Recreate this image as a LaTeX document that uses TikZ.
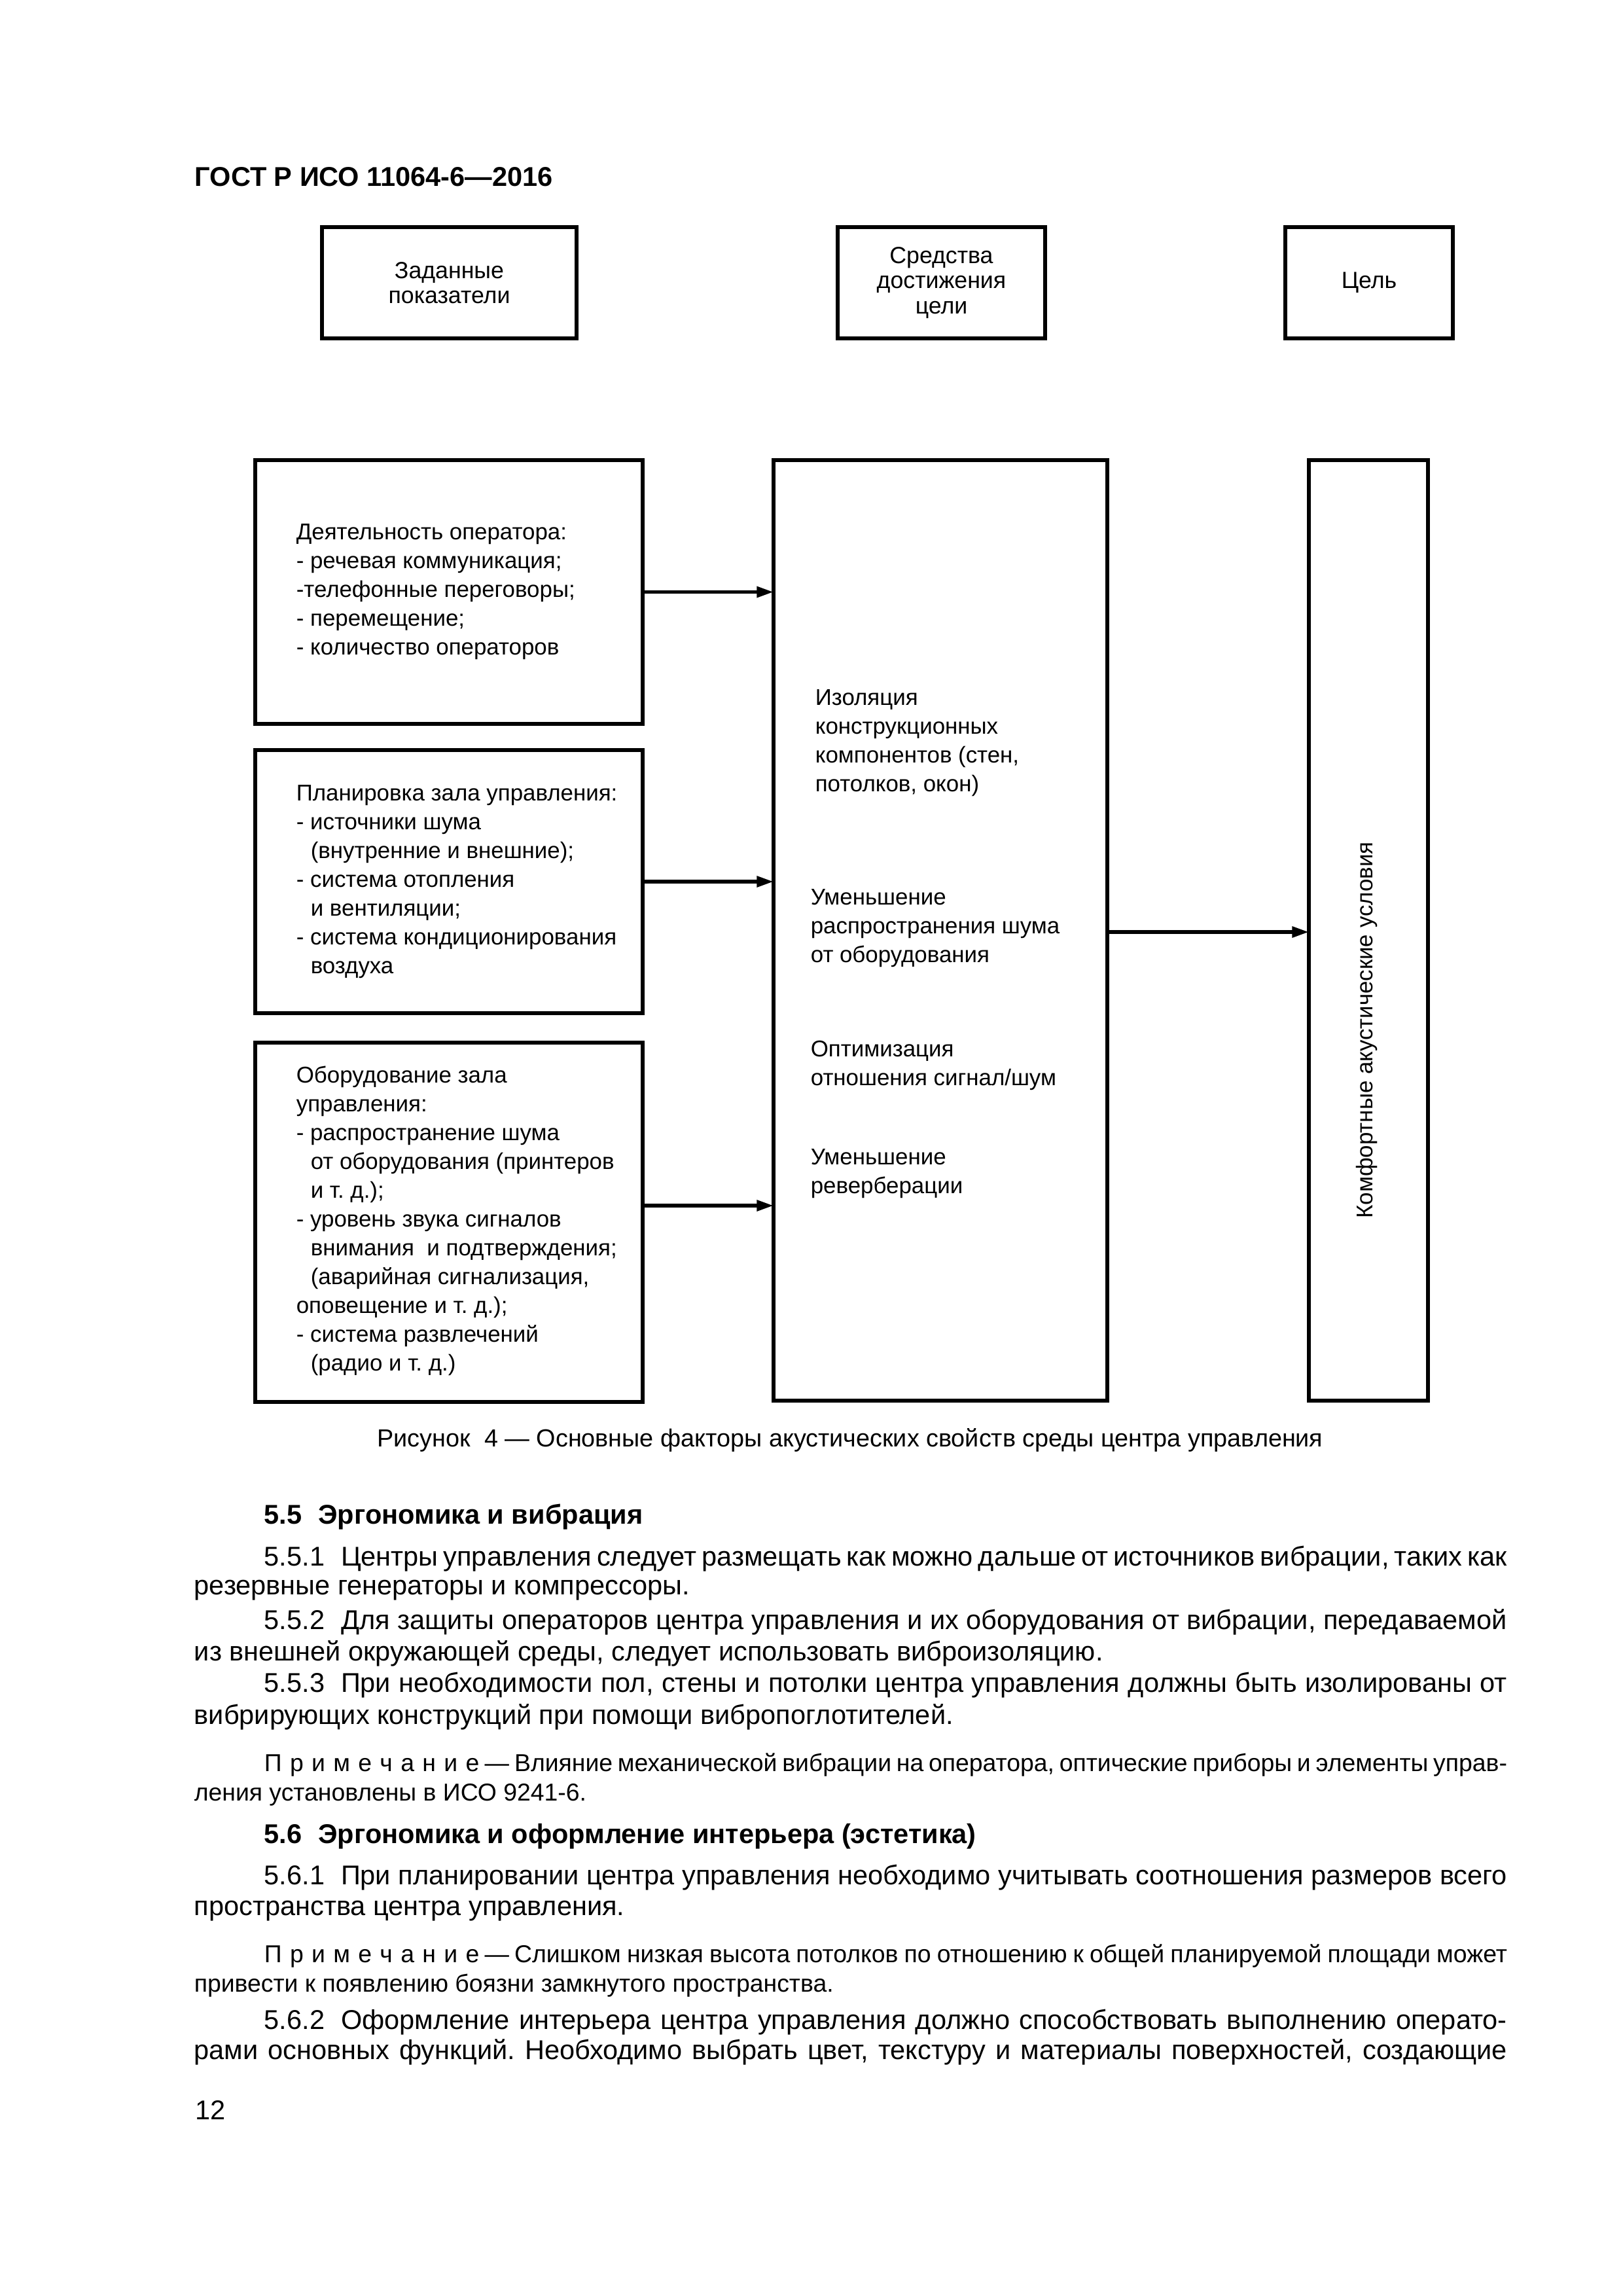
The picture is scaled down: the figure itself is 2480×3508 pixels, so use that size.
\documentclass[tikz,border=0pt]{standalone}
\usepackage{fontspec}
\setmainfont{Liberation Sans}
\usetikzlibrary{arrows.meta,calc}
\newdimen\pxu \pxu=0.0846774mm
\newcommand\jline[2]{\hbox to #1\pxu{\spaceskip=.278em plus 1fil minus .12em\relax\xspaceskip=\spaceskip #2}}
\newcommand\nline[2]{\hbox to #1\pxu{\spaceskip=.278em plus 1fil minus .2em\relax\xspaceskip=\spaceskip #2}}
\newcommand\ls{\hskip.33em\relax}
\newcommand\ndash{\hskip.22em—\hskip.22em\relax}
\newcommand\bodyfont{\fontsize{10}{11}\selectfont}
\newcommand\notefont{\fontsize{9}{10}\selectfont}
\newcommand\capfont{\fontsize{9.1}{10}\selectfont}
\newcommand\diafont{\fontsize{8.4}{10.6}\selectfont}
\newcommand\topfont{\fontsize{8.6}{9.2}\selectfont}
\newcommand\ind{\hspace*{22\pxu}}
\tikzset{
  box/.style={draw, line width=1.44pt, rectangle, inner sep=0pt, outer sep=0pt},
  topbox/.style={box, minimum height=170*\pxu, align=center, font=\topfont},
  txt/.style={align=left, font=\diafont, inner sep=0pt, anchor=west},
  arr/.style={line width=1.33pt, -{Triangle[length=6.2pt,width=3.9pt]}},
  bodyl/.style={anchor=base west, inner sep=0pt, font=\bodyfont},
  notel/.style={anchor=base west, inner sep=0pt, font=\notefont},
  headl/.style={anchor=base west, inner sep=0pt, font=\bodyfont\bfseries},
}
\begin{document}
\frenchspacing
\begin{tikzpicture}[x=0.0846774mm, y=-0.0846774mm]
\path[fill=white, use as bounding box] (0,0) rectangle (2480,3508);

% header
\node[headl] (hdr) at (297,284) {ГОСТ Р ИСО 11064-6—2016};

% top row
\node[topbox, minimum width=389*\pxu] (h1) at (686.5,432) {Заданные\\показатели};
\node[topbox, minimum width=317*\pxu] (h2) at (1438.5,432) {Средства\\достижения\\цели};
\node[topbox, minimum width=256*\pxu] (h3) at (2092,432) {Цель};

% left boxes
\node[box, minimum width=592*\pxu, minimum height=403*\pxu] (boxA) at (686,904.5) {};
\node[box, minimum width=592*\pxu, minimum height=402*\pxu] (boxB) at (686,1347) {};
\node[box, minimum width=592*\pxu, minimum height=549*\pxu] (boxC) at (686,1867.5) {};

\node[txt] (tA) at ($(boxA.west)+(62,0)$) {Деятельность оператора:\\- речевая коммуникация;\\-телефонные переговоры;\\- перемещение;\\- количество операторов};
\node[txt] (tB) at ($(boxB.west)+(62,0)$) {Планировка зала управления:\\- источники шума\\\ind(внутренние и внешние);\\- система отопления\\\ind и вентиляции;\\- система кондиционирования\\\ind воздуха};
\node[txt] (tC) at ($(boxC.west)+(62,-2)$) {Оборудование зала\\управления:\\- распространение шума\\\ind от оборудования (принтеров\\\ind и т. д.);\\- уровень звука сигналов\\\ind внимания\ \ и подтверждения;\\\ind(аварийная сигнализация,\\оповещение и т. д.);\\- система развлечений\\\ind(радио и т. д.)};

% middle box
\node[box, minimum width=510*\pxu, minimum height=1437*\pxu] (mid) at (1437,1421.5) {};
\node[txt] (m1) at (1245,1135) {Изоляция\\конструкционных\\компонентов (стен,\\потолков, окон)};
\node[txt] (m2) at (1238,1418) {Уменьшение\\распространения шума\\от оборудования};
\node[txt] (m3) at (1238,1628) {Оптимизация\\отношения сигнал/шум};
\node[txt] (m4) at (1238,1793) {Уменьшение\\реверберации};

% goal box
\node[box, minimum width=182*\pxu, minimum height=1437*\pxu] (goal) at (2091,1421.5) {};
\node[font=\diafont, rotate=90, inner sep=0pt] (gtext) at (2088,1574) {Комфортные акустические условия};

% connectors
\coordinate (yC) at (0,1842);
\coordinate (yOut) at (0,1424);
\draw[arr] (boxA.east) -- (mid.west |- boxA.east);
\draw[arr] (boxB.east) -- (mid.west |- boxB.east);
\draw[arr] (boxC.east |- yC) -- (mid.west |- yC);
\draw[arr] (mid.east |- yOut) -- (goal.west |- yOut);

% caption
\node[font=\capfont, anchor=base, inner sep=0pt] (cap) at (1299,2210) {Рисунок\ \ 4 — Основные факторы акустических свойств среды центра управления};

% body text
\node[headl] (s55) at (403,2328) {5.5\hskip.6em Эргономика и вибрация};
\node[bodyl] (p1a) at (403,2392) {\jline{1899}{5.5.1\hskip.6em Центры управления следует размещать как можно дальше от источников вибрации, таких как}};
\node[bodyl] (p1b) at (296,2436) {резервные генераторы и компрессоры.};
\node[bodyl] (p2a) at (403,2489) {\jline{1899}{5.5.2\hskip.6em Для защиты операторов центра управления и их оборудования от вибрации, передаваемой}};
\node[bodyl] (p2b) at (296,2537) {из внешней окружающей среды, следует использовать виброизоляцию.};
\node[bodyl] (p3a) at (403,2585) {\jline{1899}{5.5.3\hskip.6em При необходимости пол, стены и потолки центра управления должны быть изолированы от}};
\node[bodyl] (p3b) at (296,2634) {вибрирующих конструкций при помощи вибропоглотителей.};
\node[notel] (n1a) at (403,2706) {\nline{1899}{П\ls р\ls и\ls м\ls е\ls ч\ls а\ls н\ls и\ls е\ndash Влияние механической вибрации на оператора, оптические приборы и элементы управ-}};
\node[notel] (n1b) at (296,2751) {ления установлены в ИСО 9241-6.};
\node[headl] (s56) at (403,2816) {5.6\hskip.6em Эргономика и оформление интерьера (эстетика)};
\node[bodyl] (p4a) at (403,2879) {\jline{1899}{5.6.1\hskip.6em При планировании центра управления необходимо учитывать соотношения размеров всего}};
\node[bodyl] (p4b) at (296,2926) {пространства центра управления.};
\node[notel] (n2a) at (403,2998) {\nline{1899}{П\ls р\ls и\ls м\ls е\ls ч\ls а\ls н\ls и\ls е\ndash Слишком низкая высота потолков по отношению к общей планируемой площади может}};
\node[notel] (n2b) at (296,3043) {привести к появлению боязни замкнутого пространства.};
\node[bodyl] (p5a) at (403,3100) {\jline{1899}{5.6.2\hskip.6em Оформление интерьера центра управления должно способствовать выполнению операто-}};
\node[bodyl] (p5b) at (296,3146) {\jline{2006}{рами основных функций. Необходимо выбрать цвет, текстуру и материалы поверхностей, создающие}};
\node[bodyl] (pg) at (298,3238) {12};
\end{tikzpicture}
\end{document}
